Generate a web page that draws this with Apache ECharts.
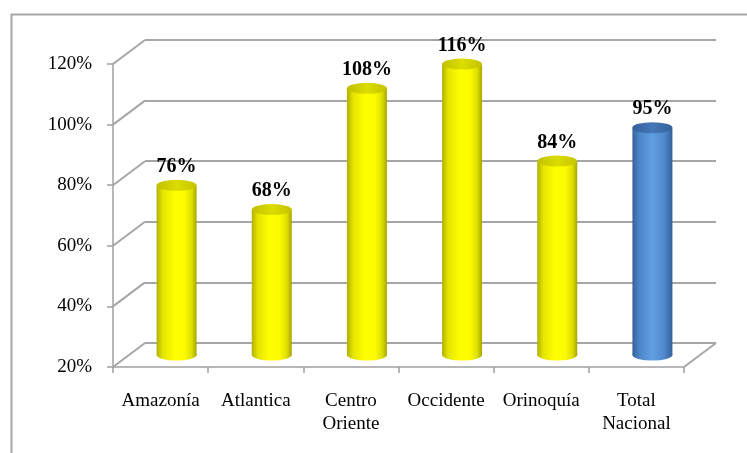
<!DOCTYPE html>
<html>
<head>
<meta charset="utf-8">
<script src="https://cdn.jsdelivr.net/npm/echarts@6/dist/echarts.min.js"></script>
<style>
html,body{margin:0;padding:0;background:#fff;}
#chart{width:747px;height:453px;}
</style>
</head>
<body>
<div id="chart"></div>
<script>
const categories = ['Amazonía', 'Atlantica', 'Centro\nOriente', 'Occidente', 'Orinoquía', 'Total\nNacional'];
const values = [76, 68, 108, 116, 84, 95];
const yTicks = [20, 40, 60, 80, 100, 120];

const DX = 32, DY = -24;
const FONT = 'Liberation Serif';
const chart = echarts.init(document.getElementById('chart'));

function bodyGrad(blue) {
  if (blue) {
    return new echarts.graphic.LinearGradient(0, 0, 1, 0, [
      {offset: 0, color: '#35629a'}, {offset: 0.18, color: '#4d86c8'},
      {offset: 0.5, color: '#609fe3'}, {offset: 0.8, color: '#4f88cb'},
      {offset: 1, color: '#33609a'}]);
  }
  return new echarts.graphic.LinearGradient(0, 0, 1, 0, [
    {offset: 0, color: '#b0b000'}, {offset: 0.15, color: '#e4e400'},
    {offset: 0.45, color: '#ffff00'}, {offset: 0.7, color: '#fbfb00'},
    {offset: 0.88, color: '#dede00'}, {offset: 1, color: '#a6a600'}]);
}
function capGrad(blue) {
  if (blue) {
    return new echarts.graphic.LinearGradient(0, 0, 1, 0, [
      {offset: 0, color: '#34609a'}, {offset: 0.5, color: '#4377b8'}, {offset: 1, color: '#34609a'}]);
  }
  return new echarts.graphic.LinearGradient(0, 0, 1, 0, [
    {offset: 0, color: '#c0c000'}, {offset: 0.5, color: '#dcdc00'}, {offset: 1, color: '#c4c400'}]);
}

const option = {
  animation: false,
  graphic: [{
    type: 'rect', left: 9, top: 12, z: -10,
    shape: {x: 0, y: 0, width: 800, height: 500},
    style: {fill: 'none', stroke: '#a8a8a8', lineWidth: 2}
  }],
  grid: [
    {left: 113, top: 64, width: 571, height: 303},
    {left: 145, top: 40, width: 571, height: 303}
  ],
  xAxis: [
    {
      type: 'category', gridIndex: 0, data: categories, boundaryGap: true,
      axisLine: {lineStyle: {color: '#a0a0a0', width: 1.5}},
      axisTick: {show: true, length: 6, lineStyle: {color: '#a0a0a0', width: 1.5}},
      axisLabel: {margin: 23, color: '#000', fontFamily: FONT, fontSize: 19, lineHeight: 23, interval: 0}
    },
    {
      type: 'category', gridIndex: 1, data: categories, show: false
    }
  ],
  yAxis: [
    {
      type: 'value', gridIndex: 0, min: 20, max: 120, interval: 20,
      axisLine: {show: true, lineStyle: {color: '#a0a0a0', width: 1.5}},
      axisTick: {show: true, length: 6, lineStyle: {color: '#a0a0a0', width: 1.5}},
      splitLine: {show: false},
      axisLabel: {margin: 21, color: '#000', fontFamily: FONT, fontSize: 19, formatter: '{value}%'}
    },
    {
      type: 'value', gridIndex: 1, min: 20, max: 120, interval: 20,
      axisLine: {show: false}, axisTick: {show: false}, axisLabel: {show: false},
      splitLine: {show: true, lineStyle: {color: '#a6a6a6', width: 2}}
    }
  ],
  series: [
    {
      type: 'custom', xAxisIndex: 0, yAxisIndex: 0, z: 1, silent: true,
      data: yTicks.map(v => [0, v]),
      renderItem: function (params, api) {
        const cs = params.coordSys;
        const p = api.coord([0, api.value(1)]);
        const children = [{
          type: 'line',
          shape: {x1: cs.x, y1: p[1], x2: cs.x + DX, y2: p[1] + DY},
          style: {stroke: '#a6a6a6', lineWidth: 2}
        }];
        if (api.value(1) === yTicks[0]) {
          children.push({
            type: 'line',
            shape: {x1: cs.x + cs.width, y1: p[1], x2: cs.x + cs.width + DX, y2: p[1] + DY},
            style: {stroke: '#a6a6a6', lineWidth: 2}
          });
        }
        return {type: 'group', children: children};
      }
    },
    {
      type: 'custom', xAxisIndex: 0, yAxisIndex: 0, z: 5, silent: true,
      data: values.map((v, i) => [i, v]),
      renderItem: function (params, api) {
        const idx = api.value(0);
        const val = api.value(1);
        const blue = categories[idx].indexOf('Total') === 0;
        const top = api.coord([idx, val]);
        const base = api.coord([idx, yTicks[0]]);
        const cx = top[0] + DX / 2;
        const ty = top[1] + DY / 2;
        const by = base[1] + DY / 2;
        const rx = 20, ry = 5.5;
        return {
          type: 'group',
          children: [
            {type: 'circle', shape: {cx: 0, cy: 0, r: rx}, x: cx, y: by, scaleY: ry / rx,
             style: {fill: bodyGrad(blue)}},
            {type: 'rect', shape: {x: cx - rx, y: ty, width: rx * 2, height: by - ty},
             style: {fill: bodyGrad(blue)}},
            {type: 'circle', shape: {cx: 0, cy: 0, r: rx}, x: cx, y: ty, scaleY: ry / rx,
             style: {fill: capGrad(blue)}},
            {type: 'text', x: cx, y: ty - ry - 3,
             style: {text: val + '%', fontFamily: FONT, fontWeight: 'bold', fontSize: 20,
                     fill: '#000', align: 'center', verticalAlign: 'bottom'}}
          ]
        };
      }
    }
  ]
};
chart.setOption(option);
</script>
</body>
</html>
